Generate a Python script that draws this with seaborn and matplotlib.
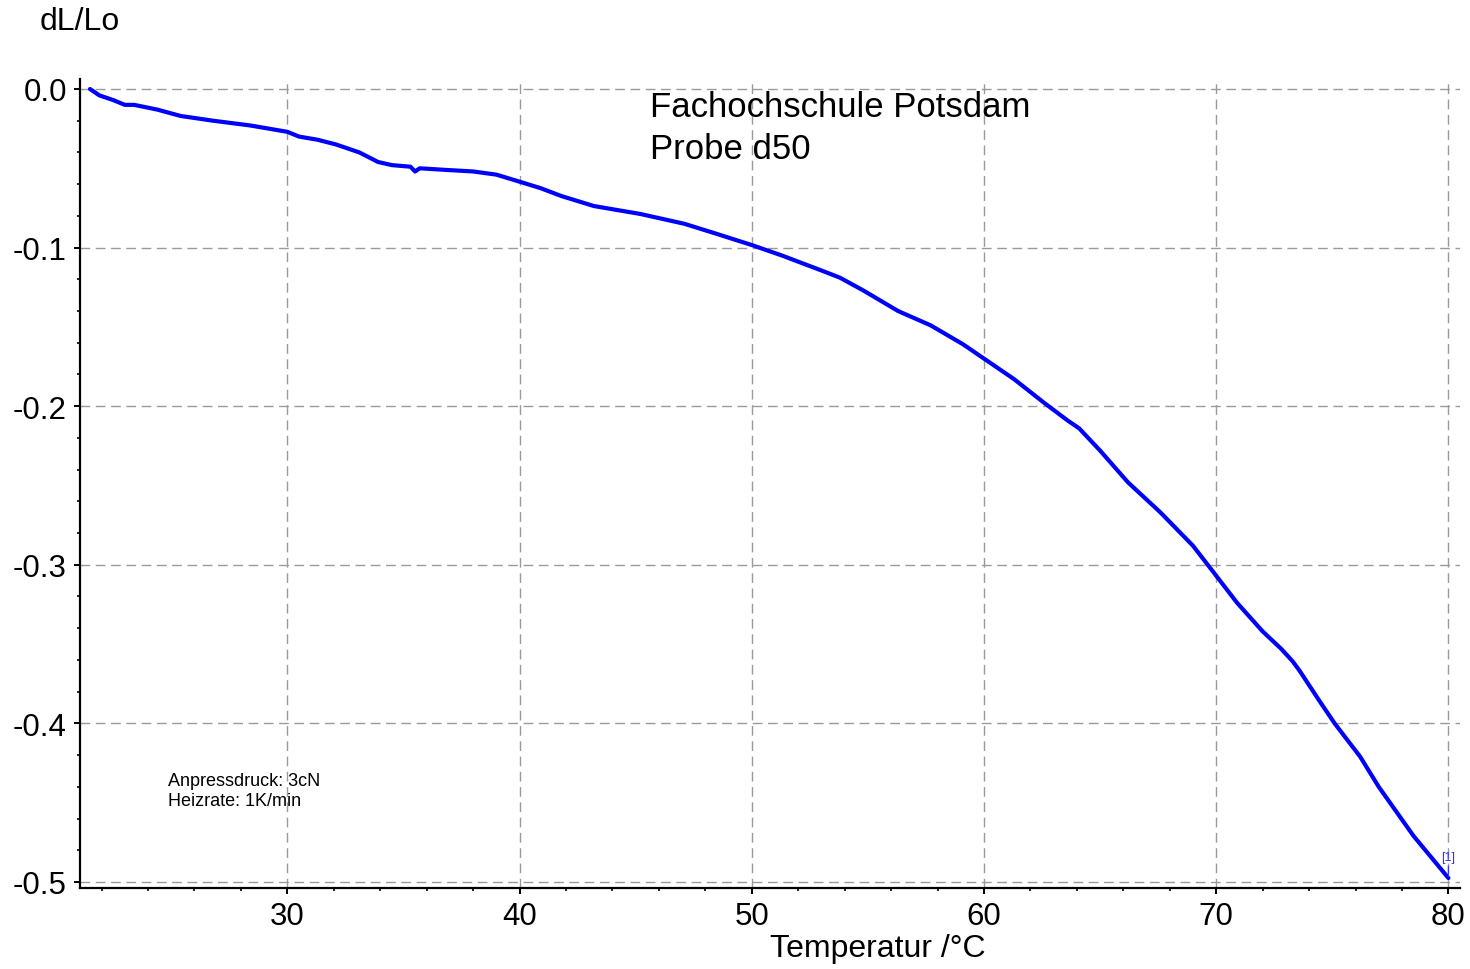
import matplotlib
matplotlib.use('Agg')
import matplotlib.pyplot as plt
import seaborn as sns
from matplotlib.ticker import MultipleLocator, FormatStrFormatter

# Dilatometer curve (Temperatur in °C, dL/Lo)
temperatur = [21.5, 21.9, 22.5, 23.0, 23.4, 24.4, 25.4, 26.8, 28.4, 30.0,
              30.5, 31.3, 32.1, 33.1, 33.9, 34.5, 35.3, 35.5, 35.7, 36.8,
              38.0, 39.0, 39.9, 40.9, 41.8, 43.2, 45.2, 47.1, 48.5, 50.0,
              51.3, 53.1, 53.8, 54.8, 56.3, 57.7, 59.1, 60.0, 61.3, 62.6,
              63.6, 64.1, 65.0, 66.2, 67.6, 69.0, 69.9, 70.9, 72.0, 72.8,
              73.3, 73.6, 74.5, 75.1, 76.2, 77.0, 78.5, 80.0]
dl_lo = [0.0, -0.004, -0.007, -0.010, -0.010, -0.013, -0.017, -0.020, -0.023, -0.027,
         -0.030, -0.032, -0.035, -0.040, -0.046, -0.048, -0.049, -0.052, -0.050, -0.051,
         -0.052, -0.054, -0.058, -0.0625, -0.0675, -0.0738, -0.0788, -0.085, -0.0914, -0.0984,
         -0.105, -0.115, -0.119, -0.127, -0.140, -0.149, -0.161, -0.170, -0.183, -0.198,
         -0.209, -0.214, -0.228, -0.248, -0.267, -0.288, -0.305, -0.324, -0.342, -0.353,
         -0.361, -0.367, -0.387, -0.400, -0.421, -0.440, -0.471, -0.4975]

x_ticks = [30, 40, 50, 60, 70, 80]
y_ticks = [0.0, -0.1, -0.2, -0.3, -0.4, -0.5]

title_lines = ['Fachochschule Potsdam', 'Probe d50']
info_lines = ['Anpressdruck: 3cN', 'Heizrate: 1K/min']

sns.set_style('ticks')
plt.rcParams['font.family'] = ['Liberation Sans', 'DejaVu Sans']
plt.rcParams['axes.unicode_minus'] = False
plt.rcParams['text.color'] = 'black'

fig = plt.figure(figsize=(14.7, 9.7), dpi=100)
ax = fig.add_axes([80 / 1470, 1 - 889 / 970, 1380 / 1470, 809 / 970])

sns.lineplot(x=temperatur, y=dl_lo, color='#0000ff', lw=3, sort=False, ax=ax, zorder=3)

ax.set_xlim(21.07, 80.5)
ax.set_ylim(-0.5038, 0.0063)
ax.set_xticks(x_ticks)
ax.set_yticks(y_ticks)
ax.yaxis.set_major_formatter(FormatStrFormatter('%.1f'))
ax.xaxis.set_minor_locator(MultipleLocator(2))
ax.yaxis.set_minor_locator(MultipleLocator(0.02))

ax.grid(True, which='major', linestyle=(0, (7, 4)), color='#9a9a9a', lw=1)
for side in ['top', 'right']:
    ax.spines[side].set_visible(False)
for side in ['left', 'bottom']:
    ax.spines[side].set_linewidth(1.6)
    ax.spines[side].set_color('black')

ax.tick_params(which='major', length=4.5, width=1.4, labelsize=22.5, pad=5,
               colors='black', labelcolor='black')
ax.tick_params(which='minor', length=2.5, width=1.2, colors='black')
ax.set_xlabel('')
ax.set_ylabel('')

fig.text(40 / 1470, 1 - 22 / 970, 'dL/Lo', fontsize=23, ha='left', va='center')
fig.text(878 / 1470, 1 - 949 / 970, 'Temperatur /°C', fontsize=23, ha='center', va='center')

fig.text(650 / 1470, 1 - 117 / 970, title_lines[0], fontsize=25, ha='left', va='baseline')
fig.text(650 / 1470, 1 - 159 / 970, title_lines[1], fontsize=25, ha='left', va='baseline')

fig.text(168 / 1470, 1 - 786 / 970, info_lines[0], fontsize=13, ha='left', va='baseline')
fig.text(168 / 1470, 1 - 806 / 970, info_lines[1], fontsize=13, ha='left', va='baseline')

ax.annotate('[1]', xy=(temperatur[-1], dl_lo[-1]), xytext=(0, 11), textcoords='offset points',
            ha='center', va='bottom', fontsize=9, color='#3333ff',
            arrowprops=dict(arrowstyle='-', color='#3333ff', lw=0.8, shrinkA=0, shrinkB=1))

fig.savefig('out.png', dpi=100)
